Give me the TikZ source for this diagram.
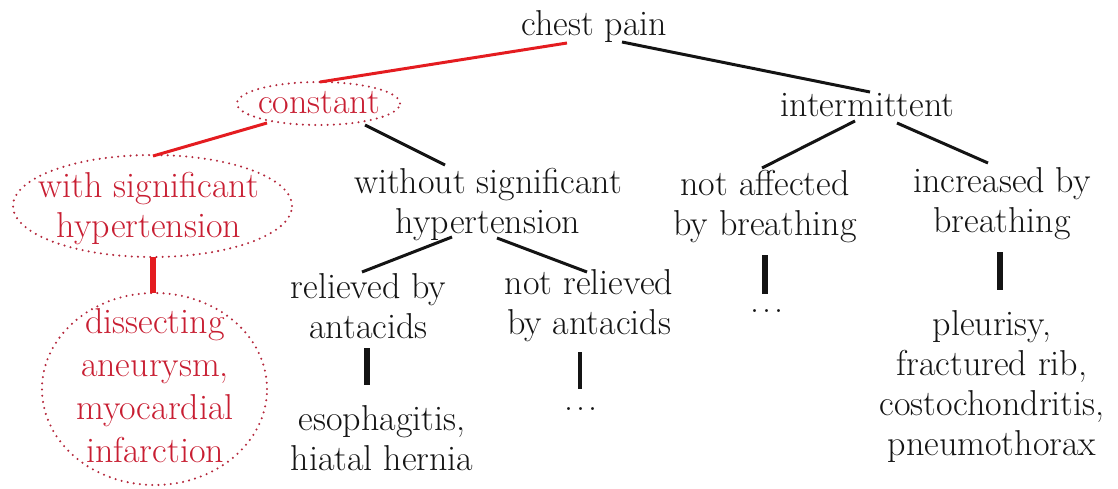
\documentclass[tikz,border=0pt]{standalone}
\usepackage{fontspec}
\setmainfont{Latin Modern Roman}
\usetikzlibrary{calc}
\definecolor{redline}{RGB}{228,28,32}
\definecolor{redtext}{RGB}{200,30,50}
\definecolor{reddot}{RGB}{180,40,60}
\definecolor{ink}{RGB}{20,20,20}
\newcommand{\threedots}{.\kern1.3pt.\kern1.3pt.}
\begin{document}
\begin{tikzpicture}[x=0.5pt,y=-0.5pt,
  lbl/.style={align=center,font=\rmfamily\fontsize{18}{20}\selectfont,inner sep=0pt,text=ink},
  redlbl/.style={lbl,text=redtext},
  oval/.style={draw=reddot,line width=1.15pt,dash pattern=on 0pt off 3.1pt,line cap=round},
  edge/.style={line width=1.5pt,ink},
  rededge/.style={line width=1.5pt,redline},
  stem/.style={line width=2.8pt,ink},
  thinstem/.style={line width=1.7pt,ink},
  redstem/.style={line width=2.8pt,redline}]
\useasboundingbox (0,0) rectangle (1118,488);

% nodes
\node[lbl] (chest) at (594.5,26.6) {chest pain};
\node[redlbl] (constant) at (319,102.5) {constant};
\node[lbl] (interm) at (867.5,104.7) {intermittent};
\node[redlbl] (withsig) at (149,209) {with significant\\hypertension};
\node[lbl] (without) at (488,205) {without significant\\hypertension};
\node[lbl] (notaff) at (765,206.6) {not affected\\by breathing};
\node[lbl] (incr) at (1002,204) {increased by\\breathing};
\node[lbl] (relieved) at (368.5,305.7) {relieved by\\antacids};
\node[lbl] (notrel) at (589,305.7) {not relieved\\by antacids};
\node[lbl] (esoph) at (382,437.7) {esophagitis,\\hiatal hernia};
\node[redlbl,font=\rmfamily\fontsize{18}{21.5}\selectfont] (dissect) at (155,385.2) {dissecting\\aneurysm,\\myocardial\\infarction};
\node[lbl] (pleurisy) at (992,386.6) {pleurisy,\\fractured rib,\\costochondritis,\\pneumothorax};
\node[lbl,anchor=base] (dotsA) at (581,410) {\threedots};
\node[lbl,anchor=base] (dotsB) at (767,312) {\threedots};

% dotted ellipses
\draw[oval] ($(constant)+(-0.5,1)$) ellipse [x radius=40.75pt, y radius=10.75pt];
\draw[oval] ($(withsig)+(3.5,-3)$) ellipse [x radius=69.75pt, y radius=25.5pt];
\draw[oval] ($(dissect)+(-0.5,3.8)$) ellipse [x radius=56.25pt, y radius=48pt];

% connectors
\draw[rededge] ($(chest)+(-27.5,16.4)$) -- ($(constant)+(1,-20.5)$);
\draw[edge] ($(chest)+(27.5,15.4)$) -- ($(interm)+(2.5,-12.7)$);
\draw[rededge] ($(constant)+(-52,20.5)$) -- ($(withsig)+(4,-53)$);
\draw[edge] ($(constant)+(46,22.5)$) -- ($(without)+(-43,-40)$);
\draw[edge] ($(interm)+(-12.5,16.3)$) -- ($(notaff)+(-3,-38.6)$);
\draw[edge] ($(interm)+(29.5,18.3)$) -- ($(incr)+(-14,-41)$);
\draw[edge] ($(without)+(-36,32)$) -- ($(relieved)+(-6.5,-33.7)$);
\draw[edge] ($(without)+(9,33)$) -- ($(notrel)+(-2,-33.7)$);
\draw[redstem] ($(withsig)+(4,48)$) -- ($(dissect)+(-2,-92.2)$);
\draw[stem] ($(relieved)+(-1.5,42.3)$) -- ($(esoph)+(-15,-52.7)$);
\draw[thinstem] ($(notrel)+(-9,46.3)$) -- ($(dotsA)+(-1,-20)$);
\draw[stem] ($(notaff)+(0,48.4)$) -- ($(dotsB)+(-2,-17)$);
\draw[stem] ($(incr)+(-2,48)$) -- ($(pleurisy)+(8,-96.6)$);
\end{tikzpicture}
\end{document}
